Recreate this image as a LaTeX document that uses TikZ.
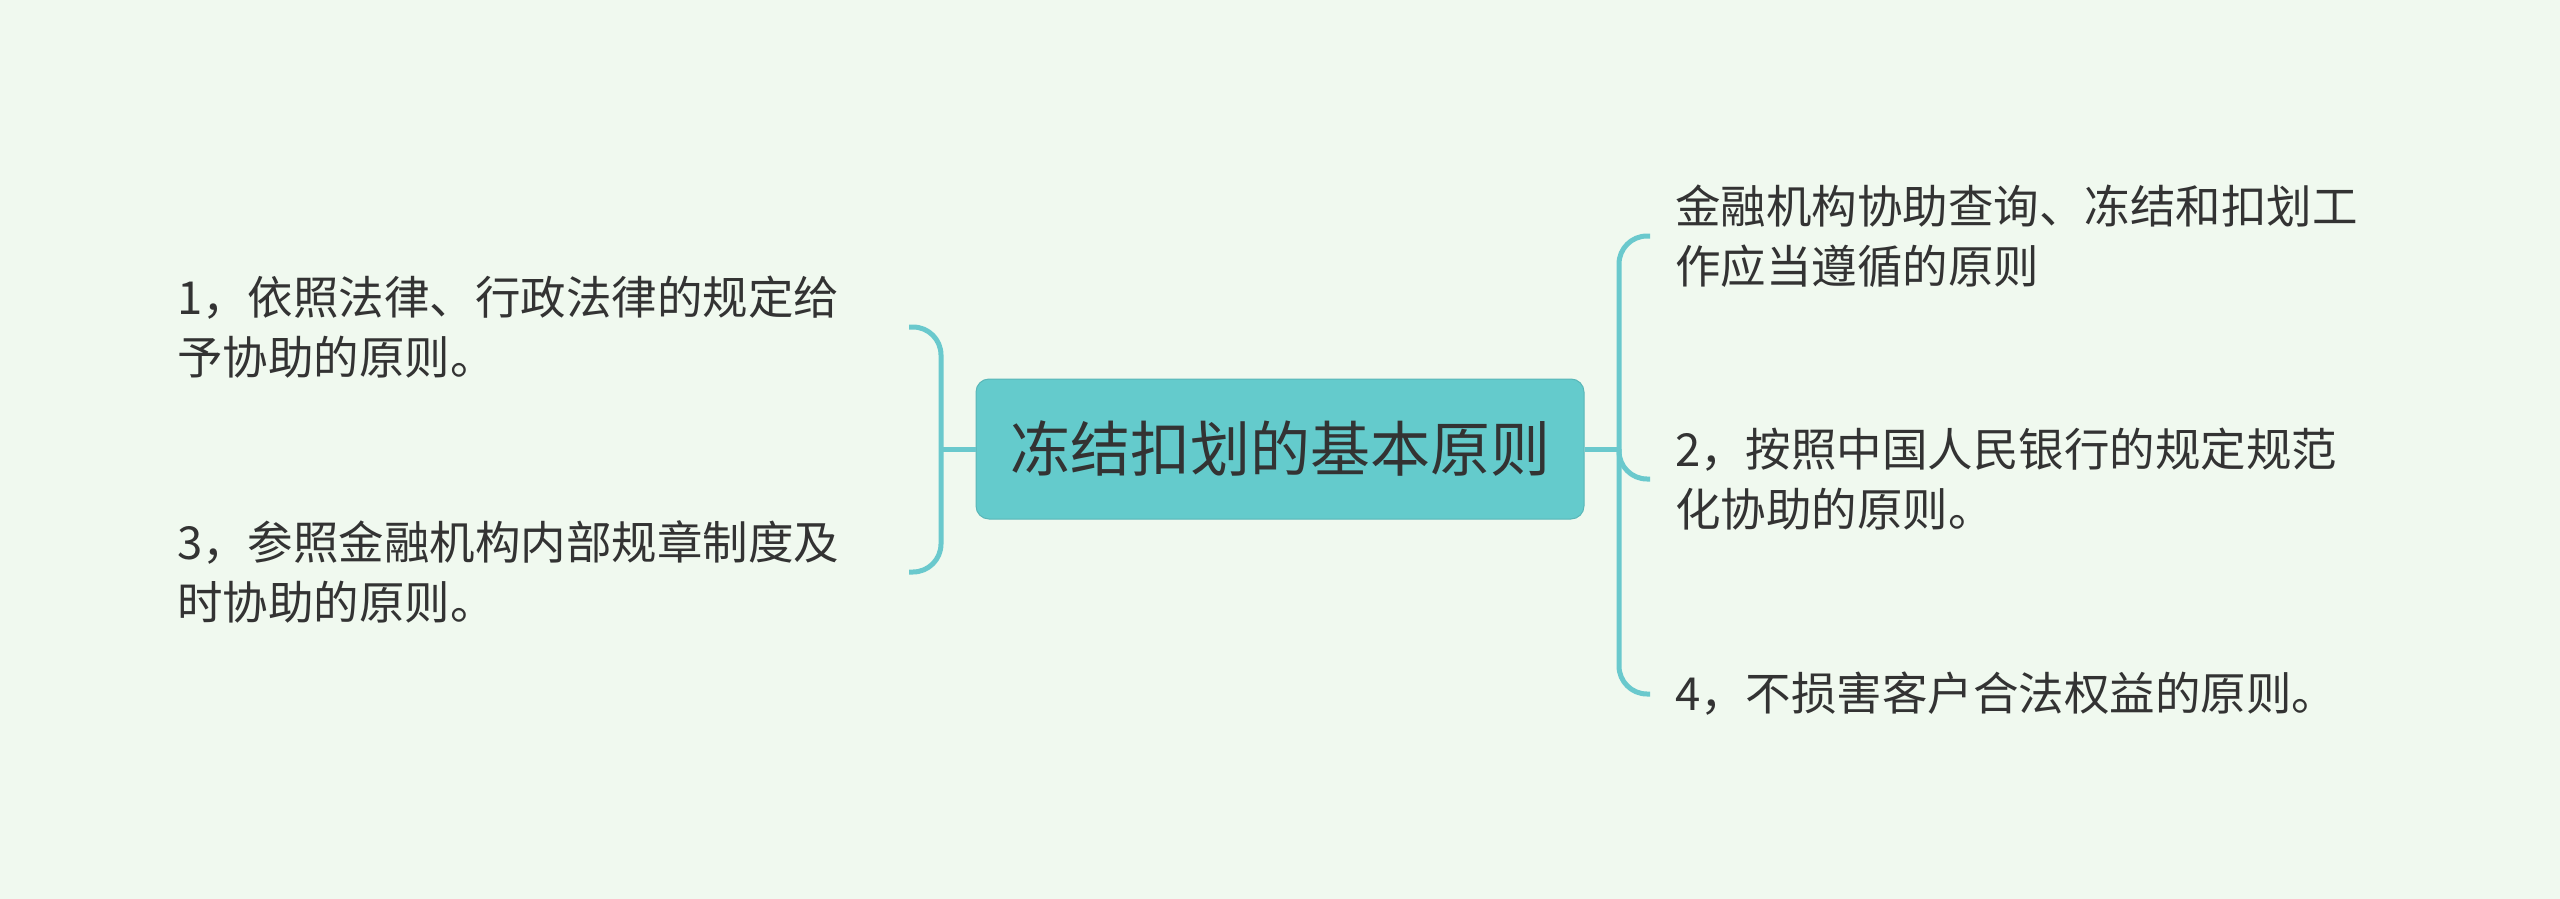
\documentclass[tikz,border=0pt]{standalone}
\usepackage{fontspec}
\newfontfamily\cjk{Noto Sans CJK SC}
\definecolor{bg}{HTML}{F0F9EF}
\definecolor{teal}{HTML}{64CBCC}
\definecolor{tealline}{HTML}{6AC9CD}
\definecolor{txt}{HTML}{333333}
\tikzset{
  conn/.style={draw=tealline, line width=5pt, rounded corners=28pt},
  connstraight/.style={draw=tealline, line width=5pt},
  leaf/.style={inner sep=0pt, align=left, text=txt, font=\cjk\fontsize{45.5pt}{60pt}\selectfont},
  rootbox/.style={draw=teal!90!black, line width=1pt, fill=teal, rounded corners=13pt, text=txt, font=\cjk\fontsize{60pt}{72pt}\selectfont, inner sep=0pt}
}
\begin{document}
\begin{tikzpicture}[x=1pt,y=-1pt]
\fill[bg] (0,0) rectangle (2560,899);
\useasboundingbox (0,0) rectangle (2560,899);
% root
\node[rootbox, minimum width=608pt, minimum height=140pt] (c) at (1280,449) {冻结扣划的基本原则};
% left leaves
\node[leaf, anchor=west] (l1) at (177,327) {1，依照法律、行政法律的规定给\\予协助的原则。};
\node[leaf, anchor=west] (l3) at (177,572) {3，参照金融机构内部规章制度及\\时协助的原则。};
% right leaves
\node[leaf, anchor=west] (r0) at (1675,236) {金融机构协助查询、冻结和扣划工\\作应当遵循的原则};
\node[leaf, anchor=west] (r2) at (1675,479) {2，按照中国人民银行的规定规范\\化协助的原则。};
\node[leaf, anchor=west] (r4) at (1675,694) {4，不损害客户合法权益的原则。};
% stub coordinates
\coordinate (jl) at (941,449);
\coordinate (sl1) at (909,327);
\coordinate (sl3) at (909,572);
\coordinate (jr) at (1619,449);
\coordinate (sr0) at (1650,236);
\coordinate (sr2) at (1650,479);
\coordinate (sr4) at (1650,694);
% left connectors
\draw[connstraight] (c.west) -- (jl);
\draw[conn] (sl1) -| (jl) |- (sl3);
% right connectors
\draw[connstraight] (c.east) -- (jr);
\draw[conn] (sr0) -| (jr) |- (sr4);
\draw[conn] (jr) |- (sr2);
\end{tikzpicture}
\end{document}
